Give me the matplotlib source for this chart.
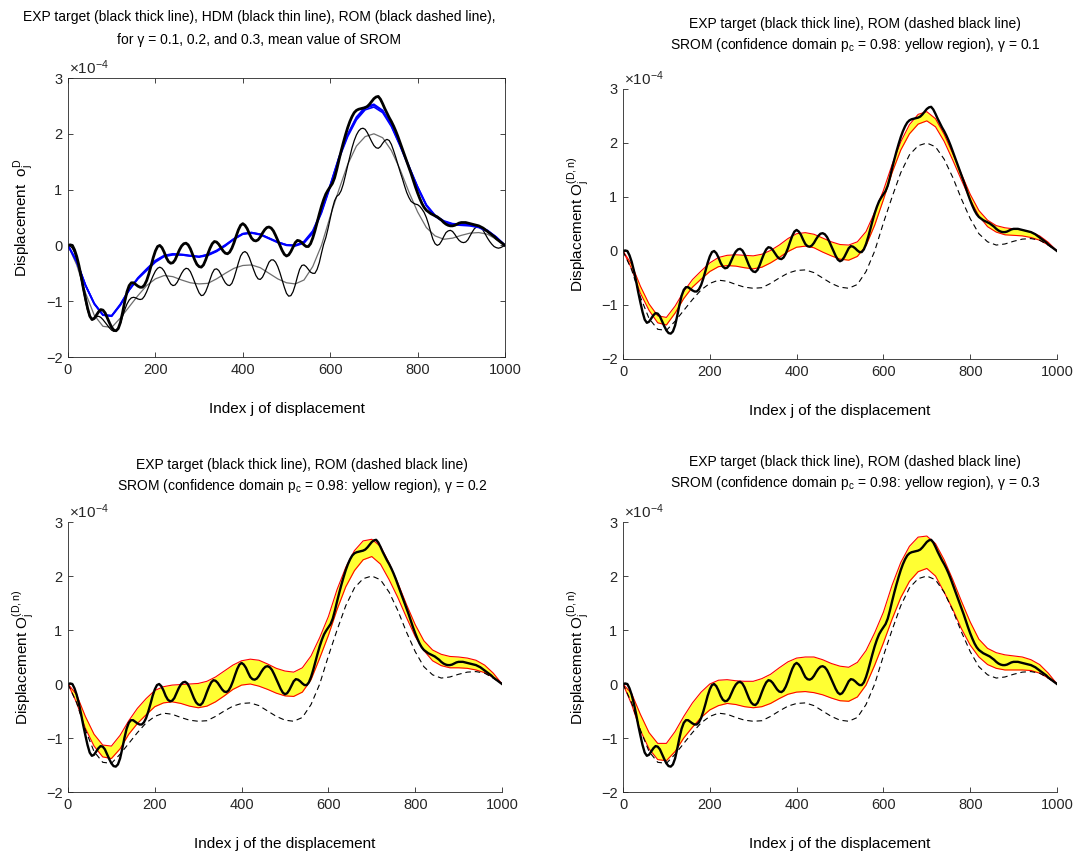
import numpy as np
import matplotlib
matplotlib.use('Agg')
import matplotlib.pyplot as plt

plt.rcParams['font.family'] = ['Liberation Sans', 'DejaVu Sans']
plt.rcParams['mathtext.fontset'] = 'custom'
plt.rcParams['mathtext.rm'] = 'Liberation Sans'
plt.rcParams['mathtext.it'] = 'Liberation Sans:italic'

# ---------------------------------------------------------------- data (x1e-4)
# fine grid for the oscillating curves (step 5)
j_fine = list(range(0, 1001, 5))
exp_target = [
    0, 0.01, 0.0, -0.08, -0.2, -0.36, -0.55, -0.76, -0.95, -1.13,
    -1.27, -1.33, -1.31, -1.25, -1.19, -1.15, -1.16, -1.21, -1.3, -1.39,
    -1.47, -1.52, -1.53, -1.49, -1.38, -1.2, -1.0, -0.83, -0.72, -0.67,
    -0.67, -0.7, -0.73, -0.75, -0.75, -0.71, -0.63, -0.51, -0.37, -0.22,
    -0.1, -0.02, 0.0, -0.04, -0.12, -0.22, -0.29, -0.32, -0.31, -0.26,
    -0.17, -0.08, -0.01, 0.03, 0.04, 0.01, -0.06, -0.16, -0.26, -0.34,
    -0.38, -0.39, -0.35, -0.26, -0.15, -0.05, 0.03, 0.07, 0.06, 0.02,
    -0.04, -0.1, -0.14, -0.15, -0.12, -0.05, 0.05, 0.17, 0.28, 0.36,
    0.39, 0.36, 0.3, 0.21, 0.13, 0.09, 0.08, 0.1, 0.15, 0.22,
    0.28, 0.32, 0.33, 0.31, 0.26, 0.18, 0.09, 0.0, -0.09, -0.16,
    -0.19, -0.17, -0.11, -0.03, 0.05, 0.09, 0.08, 0.05, 0.01, -0.02,
    -0.02, 0.03, 0.13, 0.26, 0.41, 0.56, 0.7, 0.82, 0.92, 0.99,
    1.05, 1.11, 1.21, 1.36, 1.53, 1.69, 1.84, 1.98, 2.11, 2.22,
    2.31, 2.38, 2.42, 2.44, 2.45, 2.46, 2.47, 2.49, 2.53, 2.58,
    2.63, 2.66, 2.67, 2.62, 2.54, 2.45, 2.37, 2.29, 2.22, 2.14,
    2.05, 1.95, 1.84, 1.73, 1.62, 1.51, 1.4, 1.29, 1.17, 1.05,
    0.94, 0.84, 0.75, 0.68, 0.63, 0.6, 0.57, 0.55, 0.53, 0.51,
    0.48, 0.45, 0.41, 0.38, 0.36, 0.35, 0.35, 0.36, 0.38, 0.4,
    0.41, 0.41, 0.41, 0.4, 0.39, 0.38, 0.37, 0.36, 0.35, 0.33,
    0.31, 0.28, 0.25, 0.22, 0.19, 0.16, 0.12, 0.09, 0.06, 0.03,
    0]
hdm = [
    0, -0.01, -0.05, -0.13, -0.25, -0.41, -0.6, -0.8, -1.0, -1.17,
    -1.28, -1.31, -1.3, -1.28, -1.27, -1.29, -1.33, -1.38, -1.43, -1.48,
    -1.52, -1.54, -1.53, -1.48, -1.39, -1.27, -1.15, -1.05, -0.98, -0.94,
    -0.93, -0.94, -0.96, -0.97, -0.96, -0.91, -0.83, -0.73, -0.63, -0.54,
    -0.46, -0.41, -0.39, -0.41, -0.46, -0.54, -0.62, -0.69, -0.72, -0.71,
    -0.66, -0.58, -0.5, -0.44, -0.41, -0.42, -0.47, -0.56, -0.66, -0.76,
    -0.85, -0.9, -0.89, -0.83, -0.73, -0.61, -0.5, -0.43, -0.42, -0.45,
    -0.52, -0.6, -0.67, -0.71, -0.72, -0.68, -0.58, -0.45, -0.31, -0.19,
    -0.13, -0.11, -0.14, -0.22, -0.33, -0.44, -0.54, -0.6, -0.61, -0.57,
    -0.49, -0.39, -0.3, -0.26, -0.26, -0.3, -0.38, -0.49, -0.62, -0.75,
    -0.86, -0.91, -0.9, -0.83, -0.71, -0.56, -0.43, -0.36, -0.35, -0.38,
    -0.43, -0.48, -0.5, -0.5, -0.43, -0.31, -0.14, 0.02, 0.14, 0.3,
    0.48, 0.66, 0.8, 0.88, 0.91, 0.98, 1.1, 1.26, 1.43, 1.59,
    1.75, 1.88, 1.98, 2.05, 2.09, 2.1, 2.08, 2.02, 1.94, 1.86,
    1.79, 1.75, 1.74, 1.77, 1.83, 1.88, 1.9, 1.88, 1.81, 1.7,
    1.58, 1.45, 1.32, 1.2, 1.07, 0.95, 0.86, 0.79, 0.76, 0.74,
    0.73, 0.7, 0.65, 0.59, 0.5, 0.38, 0.24, 0.11, 0.03, 0.0,
    0.02, 0.08, 0.16, 0.23, 0.26, 0.27, 0.25, 0.2, 0.14, 0.09,
    0.06, 0.05, 0.06, 0.1, 0.17, 0.24, 0.3, 0.33, 0.34, 0.32,
    0.27, 0.2, 0.13, 0.07, 0.02, -0.02, -0.04, -0.05, -0.04, -0.02,
    0]

# coarse grid for the smooth curves (step 20)
j = list(range(0, 1001, 20))
rom = [0, -0.35, -0.85, -1.25, -1.45, -1.47, -1.3, -1.1, -0.9, -0.72,
       -0.6, -0.54, -0.56, -0.62, -0.67, -0.69, -0.68, -0.6, -0.5, -0.41,
       -0.36, -0.35, -0.4, -0.5, -0.6, -0.67, -0.69, -0.62, -0.38, 0.0,
       0.52, 1.0, 1.45, 1.78, 1.95, 2.0, 1.93, 1.7, 1.36, 0.96,
       0.6, 0.32, 0.17, 0.11, 0.13, 0.18, 0.22, 0.23, 0.2, 0.11, 0]

mean_01 = [0, -0.3, -0.72, -1.05, -1.25, -1.27, -1.07, -0.8, -0.6, -0.45,
           -0.3, -0.2, -0.17, -0.17, -0.19, -0.21, -0.18, -0.11, -0.01, 0.11,
           0.2, 0.22, 0.19, 0.12, 0.05, 0.0, -0.01, 0.04, 0.22, 0.58,
           1.05, 1.55, 1.95, 2.25, 2.43, 2.48, 2.38, 2.13, 1.78, 1.4,
           1.03, 0.71, 0.52, 0.42, 0.37, 0.36, 0.35, 0.32, 0.25, 0.14, 0]
mean_02 = [0, -0.29, -0.71, -1.04, -1.24, -1.26, -1.06, -0.8, -0.59, -0.43,
           -0.28, -0.19, -0.16, -0.17, -0.19, -0.2, -0.17, -0.1, 0.0, 0.12,
           0.21, 0.23, 0.2, 0.13, 0.06, 0.01, 0.0, 0.06, 0.24, 0.6,
           1.07, 1.57, 1.98, 2.28, 2.46, 2.51, 2.41, 2.15, 1.8, 1.42,
           1.05, 0.72, 0.53, 0.43, 0.38, 0.37, 0.36, 0.33, 0.26, 0.15, 0]
mean_03 = [0, -0.28, -0.71, -1.04, -1.25, -1.26, -1.05, -0.79, -0.58, -0.42,
           -0.27, -0.18, -0.15, -0.16, -0.18, -0.2, -0.16, -0.09, 0.01, 0.12,
           0.21, 0.23, 0.2, 0.13, 0.06, 0.01, 0.0, 0.07, 0.26, 0.62,
           1.08, 1.58, 1.99, 2.3, 2.48, 2.53, 2.42, 2.16, 1.8, 1.42,
           1.05, 0.73, 0.54, 0.44, 0.39, 0.38, 0.37, 0.34, 0.27, 0.15, 0]

upper_01 = [0, -0.25, -0.65, -0.98, -1.2, -1.23, -1.02, -0.75, -0.53, -0.37,
            -0.22, -0.12, -0.08, -0.07, -0.08, -0.09, -0.06, 0.01, 0.11, 0.23,
            0.32, 0.34, 0.31, 0.24, 0.17, 0.12, 0.11, 0.17, 0.36, 0.72,
            1.12, 1.6, 2.02, 2.34, 2.53, 2.58, 2.45, 2.16, 1.8, 1.42,
            1.05, 0.75, 0.57, 0.47, 0.43, 0.41, 0.39, 0.35, 0.28, 0.16, 0]
lower_01 = [0, -0.33, -0.78, -1.1, -1.33, -1.37, -1.15, -0.88, -0.67, -0.52,
            -0.38, -0.29, -0.27, -0.28, -0.31, -0.33, -0.3, -0.22, -0.12, -0.01,
            0.07, 0.09, 0.06, -0.02, -0.09, -0.15, -0.17, -0.1, 0.1, 0.48,
            0.95, 1.45, 1.87, 2.17, 2.35, 2.41, 2.3, 2.03, 1.68, 1.31,
            0.95, 0.65, 0.45, 0.35, 0.3, 0.29, 0.28, 0.25, 0.2, 0.11, 0]

upper_02 = [0, -0.2, -0.6, -0.93, -1.13, -1.15, -0.95, -0.68, -0.45, -0.27,
            -0.12, -0.05, -0.02, -0.01, 0.0, 0.01, 0.05, 0.13, 0.24, 0.35,
            0.43, 0.46, 0.44, 0.37, 0.29, 0.24, 0.22, 0.3, 0.52, 0.86,
            1.25, 1.75, 2.16, 2.47, 2.65, 2.68, 2.55, 2.24, 1.87, 1.47,
            1.1, 0.8, 0.63, 0.55, 0.51, 0.5, 0.48, 0.44, 0.35, 0.2, 0]
lower_02 = [0, -0.35, -0.82, -1.15, -1.35, -1.38, -1.2, -0.93, -0.73, -0.57,
            -0.42, -0.35, -0.33, -0.36, -0.41, -0.44, -0.41, -0.33, -0.22, -0.1,
            -0.02, 0.0, -0.04, -0.1, -0.17, -0.22, -0.23, -0.15, 0.08, 0.48,
            0.9, 1.38, 1.8, 2.1, 2.3, 2.36, 2.22, 1.93, 1.6, 1.23,
            0.88, 0.62, 0.43, 0.34, 0.3, 0.3, 0.29, 0.26, 0.21, 0.12, 0]

upper_03 = [0, -0.18, -0.56, -0.9, -1.1, -1.1, -0.88, -0.6, -0.35, -0.15,
            0.0, 0.07, 0.08, 0.06, 0.05, 0.05, 0.1, 0.18, 0.3, 0.41,
            0.48, 0.5, 0.5, 0.45, 0.38, 0.33, 0.31, 0.4, 0.62, 0.95,
            1.33, 1.83, 2.25, 2.55, 2.72, 2.74, 2.6, 2.3, 1.93, 1.53,
            1.15, 0.83, 0.66, 0.58, 0.54, 0.52, 0.5, 0.45, 0.36, 0.2, 0]
lower_03 = [0, -0.38, -0.86, -1.2, -1.4, -1.42, -1.25, -1.0, -0.8, -0.62,
            -0.48, -0.4, -0.36, -0.38, -0.42, -0.44, -0.42, -0.36, -0.27, -0.19,
            -0.15, -0.14, -0.16, -0.2, -0.26, -0.31, -0.32, -0.24, -0.02, 0.35,
            0.76, 1.2, 1.6, 1.9, 2.08, 2.14, 2.0, 1.7, 1.38, 1.02,
            0.72, 0.5, 0.36, 0.29, 0.26, 0.26, 0.26, 0.25, 0.2, 0.11, 0]

gammas = ['0.1', '0.2', '0.3']
bands = [(upper_01, lower_01), (upper_02, lower_02), (upper_03, lower_03)]

xticks = [0, 200, 400, 600, 800, 1000]
yticks = [-2, -1, 0, 1, 2, 3]

# ---------------------------------------------------------------- figure
W, H = 1073, 856
fig = plt.figure(figsize=(W / 100, H / 100), dpi=100)

def px(x0, y0, x1, y1):
    # pixel box -> figure fraction [left, bottom, width, height]
    return [x0 / W, 1 - y1 / H, (x1 - x0) / W, (y1 - y0) / H]

axc = '#262626'

def style(ax, box):
    ax.set_xlim(0, 1000)
    ax.set_ylim(-2, 3)
    ax.set_xticks(xticks)
    ax.set_yticks(yticks)
    ax.tick_params(direction='in', length=3.5, width=0.6, colors=axc,
                   labelsize=10.5, labelcolor=axc, top=box, right=box, pad=4)
    for s in ax.spines.values():
        s.set_color(axc)
        s.set_linewidth(0.6)
    if not box:
        ax.spines['top'].set_visible(False)
        ax.spines['right'].set_visible(False)
    ax.text(0.002, 1.003, r'$\times10^{-4}$', transform=ax.transAxes,
            ha='left', va='bottom', fontsize=11, color=axc)

def two_lines(x, y1, y2, l1, l2):
    fig.text(x / W, 1 - y1 / H, l1, ha='center', va='center', fontsize=10)
    fig.text(x / W, 1 - y2 / H, l2, ha='center', va='center', fontsize=10)

# top-left: mean value of SROM
ax = fig.add_axes(px(68, 78, 505, 357))
ax.plot(j, rom, color='#6e6e6e', lw=0.9)
ax.plot(j_fine, hdm, color='black', lw=0.9)
ax.plot(j, mean_01, color='blue', lw=1.2)
ax.plot(j, mean_02, color='blue', lw=1.2)
ax.plot(j, mean_03, color='blue', lw=1.2)
ax.plot(j_fine, exp_target, color='black', lw=2.0)
style(ax, True)
ax.set_xlabel('Index j of displacement', fontsize=11, labelpad=18)
ax.set_ylabel(r'Displacement  o$_\mathrm{j}^\mathrm{D}$', fontsize=11, labelpad=7)
two_lines(259, 17, 40,
          'EXP target (black thick line), HDM (black thin line), ROM (black dashed line),',
          'for γ = 0.1, 0.2, and 0.3, mean value of SROM')

# the three confidence-domain panels
boxes = [(623, 89, 1057, 359), (68, 522, 502, 792), (623, 522, 1057, 792)]
title_pos = [(855, 24, 45), (302, 465, 486), (855, 462, 483)]
for (x0, y0, x1, y1), (tx, ty1, ty2), (up, lo), g in zip(boxes, title_pos, bands, gammas):
    ax = fig.add_axes(px(x0, y0, x1, y1))
    ax.fill_between(j, lo, up, color='#ffff33', lw=0)
    ax.plot(j, up, color='red', lw=0.8)
    ax.plot(j, lo, color='red', lw=0.8)
    ax.plot(j, rom, color='black', lw=0.8, ls=(0, (5, 3.5)))
    ax.plot(j_fine, exp_target, color='black', lw=1.7)
    style(ax, False)
    ax.set_xlabel('Index j of the displacement', fontsize=11, labelpad=18)
    ax.set_ylabel(r'Displacement O$_\mathrm{j}^\mathrm{(D,n)}$', fontsize=11, labelpad=7)
    two_lines(tx, ty1, ty2,
              'EXP target (black thick line), ROM (dashed black line)',
              r'SROM (confidence domain p$_\mathrm{c}$ = 0.98: yellow region), γ = ' + g)

fig.savefig('out.png', dpi=100)
